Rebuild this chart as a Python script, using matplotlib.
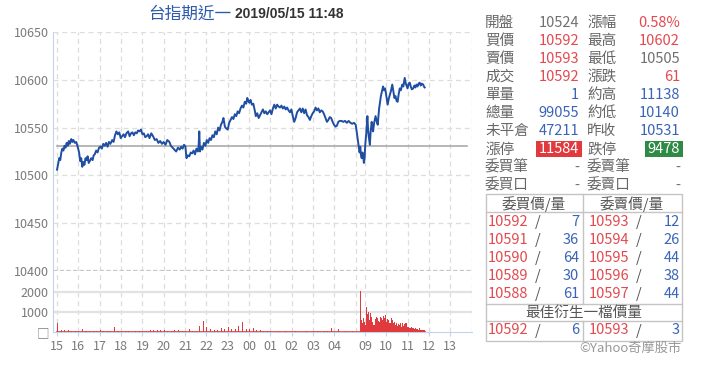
import matplotlib
matplotlib.use('Agg')
import matplotlib.pyplot as plt
from matplotlib.patches import Rectangle

plt.rcParams['font.family'] = ['Noto Sans CJK TC', 'DejaVu Sans']

# ---------------- 走勢資料 ----------------
# 夜盤: 15:00 起算的分鐘數 / 價格
night_min = [0, 3, 6, 9, 12, 15, 18, 21, 24, 27, 30, 33, 36, 40, 43, 46, 50, 54, 58, 62,
             65, 68, 71, 74, 77, 80, 83, 86, 89, 92, 96, 100, 103, 106, 110, 114, 118, 122, 126, 130,
             134, 138, 142, 146, 150, 155, 159, 163, 167, 171, 175, 179, 183, 187, 191, 195, 200, 204, 208, 212,
             216, 220, 224, 228, 232, 236, 240, 244, 248, 252, 256, 260, 265, 270, 275, 280, 285, 290, 295, 300,
             305, 310, 316, 320, 325, 330, 335, 340, 345, 349, 353, 357, 361, 364, 368, 372, 376, 380, 384, 388,
             392, 396, 398, 400, 402, 405, 409, 413, 417, 421, 425, 429, 433, 437, 441, 445, 449, 453, 457, 461,
             465, 468, 472, 476, 480, 484, 488, 492, 496, 500, 504, 508, 512, 516, 520, 524, 528, 532, 535, 538,
             541, 544, 548, 552, 556, 559, 563, 567, 571, 575, 579, 583, 587, 591, 595, 599, 603, 607, 611, 615,
             619, 623, 627, 631, 635, 639, 643, 647, 651, 655, 659, 663, 667, 671, 675, 679, 683, 687, 691, 695,
             699, 703, 707, 711, 715, 719, 723, 727, 731, 735, 739, 743, 747, 751, 755, 759, 763, 767, 771, 775,
             779, 783, 787, 791, 795, 800, 805, 810, 815, 820, 825, 830, 835, 840]
night_price = [10506, 10512, 10518, 10516, 10524, 10528, 10526, 10531, 10529, 10534, 10531, 10536, 10533, 10538, 10535, 10537, 10534, 10535, 10530, 10524,
               10515, 10518, 10509, 10514, 10511, 10518, 10516, 10520, 10513, 10515, 10518, 10516, 10521, 10522, 10526, 10524, 10529, 10530, 10528, 10533,
               10531, 10534, 10530, 10535, 10533, 10537, 10535, 10542, 10546, 10543, 10545, 10539, 10541, 10543, 10540, 10544, 10546, 10541, 10544, 10545,
               10542, 10545, 10544, 10547, 10546, 10548, 10543, 10544, 10540, 10541, 10543, 10539, 10544, 10541, 10537, 10538, 10534, 10536, 10533, 10535,
               10532, 10537, 10535, 10531, 10529, 10527, 10525, 10529, 10527, 10530, 10528, 10532, 10530, 10518, 10521, 10520, 10524, 10523, 10526, 10522,
               10528, 10525, 10530, 10546, 10525, 10530, 10527, 10534, 10531, 10537, 10534, 10539, 10537, 10542, 10540, 10546, 10543, 10550, 10547, 10553,
               10556, 10560, 10551, 10549, 10548, 10555, 10558, 10561, 10559, 10564, 10562, 10567, 10565, 10570, 10573, 10571, 10577, 10575, 10581, 10578,
               10576, 10579, 10574, 10575, 10568, 10562, 10565, 10560, 10563, 10566, 10569, 10565, 10567, 10564, 10566, 10568, 10564, 10570, 10574, 10570,
               10574, 10572, 10571, 10573, 10570, 10572, 10569, 10571, 10568, 10566, 10569, 10562, 10556, 10560, 10566, 10568, 10570, 10566, 10570, 10565,
               10569, 10563, 10561, 10558, 10562, 10565, 10567, 10571, 10568, 10570, 10566, 10568, 10567, 10564, 10560, 10556, 10558, 10561, 10560, 10556,
               10553, 10551, 10552, 10556, 10557, 10557, 10556, 10557, 10555, 10557, 10555, 10554, 10555, 10553]

# 日盤: 08:45 起算的分鐘數 / 價格
day_min = [0, 2, 4, 6, 8, 10, 12, 14, 16, 19, 22, 24, 26, 29, 31, 34, 36, 38, 41, 45,
           48, 51, 53, 55, 58, 60, 63, 66, 69, 72, 74, 77, 79, 82, 85, 88, 92, 95, 98, 101,
           104, 107, 110, 113, 116, 120, 123, 127, 130, 133, 135, 138, 141, 144, 147, 151, 154, 157, 160, 163,
           166, 169, 172, 175, 179, 181, 183]
day_price = [10524, 10530, 10521, 10518, 10524, 10522, 10513, 10517, 10532, 10545, 10562, 10548, 10540, 10532, 10545, 10556, 10550, 10546, 10555, 10562,
             10557, 10553, 10562, 10570, 10578, 10583, 10588, 10593, 10589, 10591, 10586, 10578, 10574, 10580, 10584, 10588, 10595, 10588, 10581, 10583,
             10578, 10577, 10585, 10591, 10589, 10595, 10593, 10602, 10596, 10593, 10591, 10596, 10597, 10593, 10590, 10591, 10594, 10592, 10595, 10593,
             10596, 10597, 10594, 10596, 10595, 10593, 10592]

prev_close = 10531

# 成交量: 夜盤每 10 分鐘, 日盤每 3 分鐘
night_vol_min = list(range(0, 840, 10))
night_vol = [430, 120, 80, 100, 60, 40, 50, 130, 70, 30, 40, 60,
             90, 40, 30, 50, 230, 60, 40, 70, 30, 20, 30, 40,
             60, 30, 120, 90, 110, 80, 120, 40, 30, 100, 90, 30,
             60, 150, 40, 30, 280, 530, 260, 150, 120, 90, 200, 170,
             250, 140, 170, 300, 520, 150, 130, 180, 80, 90, 60, 40,
             30, 20, 60, 20, 30, 20, 20, 60, 20, 20, 30, 20,
             60, 30, 20, 40, 30, 200, 30, 130, 20, 30, 20, 60]
day_vol_min = list(range(0, 183, 3))
day_vol = [2050, 600, 450, 700, 500, 350, 1230, 900, 1020, 600, 930, 770, 500, 330, 650, 770,
           700, 550, 500, 750, 680, 600, 800, 700, 850, 500, 650, 600, 450, 700, 600, 450,
           500, 350, 450, 300, 400, 350, 450, 250, 430, 300, 400, 430, 270, 250, 220, 180,
           250, 200, 180, 150, 220, 130, 150, 120, 180, 100, 120, 90, 110]

night_labels = ['15', '16', '17', '18', '19', '20', '21', '22', '23', '00', '01', '02', '03', '04']
day_labels = ['09', '10', '11', '12', '13']

# 右側報價
left_names = ['開盤', '買價', '賣價', '成交', '單量', '總量', '未平倉', '漲停', '委買筆', '委買口']
left_vals = ['10524', '10592', '10593', '10592', '1', '99055', '47211', '11584', '-', '-']
right_names = ['漲幅', '最高', '最低', '漲跌', '約高', '約低', '昨收', '跌停', '委賣筆', '委賣口']
right_vals = ['0.58%', '10602', '10505', '61', '11138', '10140', '10531', '9478', '-', '-']

bid_px = ['10592', '10591', '10590', '10589', '10588']
bid_qty = ['7', '36', '64', '30', '61']
ask_px = ['10593', '10594', '10595', '10596', '10597']
ask_qty = ['12', '26', '44', '38', '44']
best_bid = ('10592', '6')
best_ask = ('10593', '3')

RED = '#e24a4f'
BLUE = '#3a64b8'
GRAY = '#707070'
LBL = '#666666'
left_cols = [GRAY, RED, RED, RED, BLUE, BLUE, BLUE, 'white', GRAY, GRAY]
right_cols = [RED, RED, GRAY, RED, BLUE, BLUE, BLUE, 'white', GRAY, GRAY]

# ---------------- 座標 ----------------
DAY0 = 14.18   # 08:45 在 x 軸上的位置 (小時單位)
nx = [m / 60 for m in night_min]
dx = [DAY0 + m / 60 for m in day_min]
px_all = nx + dx
py_all = night_price + day_price

W, H = 720, 373
fig = plt.figure(figsize=(W / 100, H / 100), dpi=100)

def fbox(x0, y0, x1, y1):
    return [x0 / W, 1 - y1 / H, (x1 - x0) / W, (y1 - y0) / H]

ax = fig.add_axes(fbox(53, 32, 472, 271))
av = fig.add_axes(fbox(53, 271, 472, 332), sharex=ax)

xmin, xmax = -0.19, 19.45
grid_x = list(range(0, 15)) + [DAY0 + 0.25 + k for k in range(6)]
tick_x = list(range(0, 14)) + [DAY0 + 0.25 + k for k in range(5)]

for a in (ax, av):
    for gx in grid_x:
        a.axvline(gx, color='#dddddd', lw=0.9, ls=(0, (4, 3)), zorder=0)
    for s in ('top', 'right'):
        a.spines[s].set_visible(False)
    a.spines['left'].set_color('#c3d4ea')
    a.tick_params(axis='y', length=0, labelsize=9, labelcolor='#7a7a7a', pad=3)

# 價格
ax.plot(px_all, py_all, color='#1f4ea3', lw=1.4, zorder=3)
ax.plot([0, 19.2], [prev_close, prev_close], color='#aaaaaa', lw=1.2, zorder=2)
for gy in [10450, 10500, 10550, 10600, 10650]:
    ax.axhline(gy, color='#dddddd', lw=0.9, ls=(0, (4, 3)), zorder=0)
ax.axhline(10400, color='#c8c8c8', lw=1.6, ls=(0, (2, 1)), zorder=1, clip_on=False)
ax.set_ylim(10400, 10650)
ax.set_yticks([10400, 10450, 10500, 10550, 10600, 10650])
ax.spines['bottom'].set_visible(False)
ax.tick_params(axis='x', bottom=False, labelbottom=False)
ax.set_xlim(xmin, xmax)

# 成交量
av.bar([m / 60 for m in night_vol_min], night_vol, width=3 / 60, align='edge',
       color='#e03a3e', lw=0, zorder=3)
av.bar([DAY0 + m / 60 for m in day_vol_min], day_vol, width=3 / 60, align='edge',
       color='#e03a3e', lw=0, zorder=3)
av.plot([0, DAY0 + 183 / 60], [0, 0], color='#e03a3e', lw=1.2, zorder=3)
for gy in [1000, 2000]:
    av.axhline(gy, color='#e2e2e2', lw=1.6, zorder=0)
av.set_ylim(0, 3050)
av.set_yticks([0, 1000, 2000])
av.set_yticklabels(['□', '1000', '2000'])
av.spines['bottom'].set_color('#c3d4ea')
av.set_xticks(tick_x)
av.set_xticklabels(night_labels + day_labels)
av.tick_params(axis='x', length=3, color='#c3d4ea', labelsize=9, labelcolor='#7a7a7a', pad=3)
av.set_xlim(xmin, xmax)

# ---------------- 標題與右側面板 (像素座標) ----------------
ov = fig.add_axes([0, 0, 1, 1])
ov.set_xlim(0, W)
ov.set_ylim(H, 0)
ov.axis('off')
ov.patch.set_alpha(0)

ov.text(231, 14, '台指期近一', color='#2d5bab', fontsize=12, ha='right', va='center')
ov.text(235, 14, '2019/05/15 11:48', color='#333333', fontsize=10, fontweight='bold',
        family='Liberation Sans', ha='left', va='center')

FS = 10.5
for i in range(len(left_names)):
    y = 22.7 + i * 18.1
    ov.text(485, y, left_names[i], color=LBL, fontsize=FS, ha='left', va='center')
    ov.text(587, y, right_names[i], color=LBL, fontsize=FS, ha='left', va='center')
    if left_names[i] == '漲停':
        ov.add_patch(Rectangle((536, y - 8), 46, 16, color='#e03a3e', lw=0))
        ov.add_patch(Rectangle((645, y - 8), 38, 16, color='#2e8a44', lw=0))
    ov.text(579, y, left_vals[i], color=left_cols[i], fontsize=FS, ha='right', va='center')
    ov.text(680, y, right_vals[i], color=right_cols[i], fontsize=FS, ha='right', va='center')

# 委託簿表格
bc = '#c4c4c4'
ov.add_patch(Rectangle((486, 194), 196, 147, fill=False, ec=bc, lw=1))
for yy in [212, 304, 321]:
    ov.plot([486, 682], [yy, yy], color=bc, lw=1)
ov.plot([583, 583], [194, 304], color=bc, lw=1)
ov.plot([583, 583], [321, 341], color=bc, lw=1)

ov.text(534, 204, '委買價/量', color='#555555', fontsize=FS, ha='center', va='center')
ov.text(632, 204, '委賣價/量', color='#555555', fontsize=FS, ha='center', va='center')

def book_row(y, bp, bq, ap, aq):
    ov.text(488, y, bp, color=RED, fontsize=FS, ha='left', va='center')
    ov.text(538, y, '/', color='#555555', fontsize=FS, ha='center', va='center')
    ov.text(579, y, bq, color=BLUE, fontsize=FS, ha='right', va='center')
    ov.text(589, y, ap, color=RED, fontsize=FS, ha='left', va='center')
    ov.text(639, y, '/', color='#555555', fontsize=FS, ha='center', va='center')
    ov.text(680, y, aq, color=BLUE, fontsize=FS, ha='right', va='center')

for i in range(len(bid_px)):
    book_row(222 + i * 18, bid_px[i], bid_qty[i], ask_px[i], ask_qty[i])

ov.text(584, 312.5, '最佳衍生一檔價量', color='#555555', fontsize=FS, ha='center', va='center')
book_row(330.5, best_bid[0], best_bid[1], best_ask[0], best_ask[1])

ov.text(682, 348, '©Yahoo奇摩股市', color='#999999', fontsize=9.5, ha='right', va='center')

fig.savefig('out.png', dpi=100)
